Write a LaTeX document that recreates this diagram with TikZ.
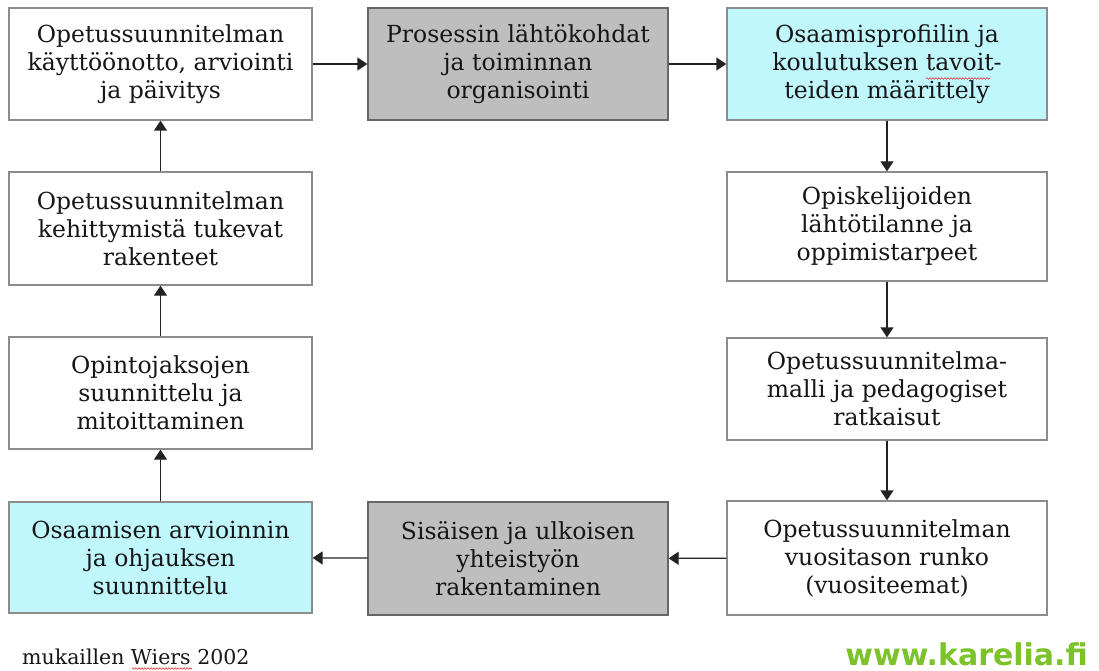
\documentclass[tikz,border=0pt]{standalone}
\usepackage{fontspec}
\setmainfont{DejaVu Serif}
\newfontfamily\logofont{DejaVu Sans}
\usetikzlibrary{arrows.meta,decorations.pathmorphing}
\definecolor{boxgrey}{HTML}{BEBEBE}
\definecolor{boxcyan}{HTML}{BFF7FC}
\definecolor{bordergrey}{HTML}{8C8C8C}
\definecolor{textdark}{HTML}{161616}
\definecolor{arrowdark}{HTML}{222222}
\definecolor{karelia}{HTML}{7CC22A}
\definecolor{spellred}{HTML}{E03030}
\tikzset{
  stagebox/.style={draw=bordergrey, line width=1.3pt, fill=white, inner sep=0pt,
    align=center, text=textdark, font=\fontsize{23.5}{28}\selectfont},
  greybox/.style={stagebox, fill=boxgrey, draw=black!60},
  cyanbox/.style={stagebox, fill=boxcyan},
  flow/.style={draw=arrowdark, line width=1.3pt, -{Triangle[width=13pt,length=10pt]}},
  spellmark/.style={draw=spellred, line width=0.6pt,
    decorate, decoration={snake, segment length=3pt, amplitude=0.8pt}},
}
\begin{document}
\begin{tikzpicture}[x=1pt,y=-1pt]
\useasboundingbox (0,0) rectangle (1099,671);
\node[stagebox, minimum width=303pt, minimum height=112pt] (A) at (160.5,64)
  {Opetussuunnitelman\\käyttöönotto, arviointi\\ja päivitys};
\node[greybox, minimum width=300pt, minimum height=112pt] (B) at (518,64)
  {Prosessin lähtökohdat\\ja toiminnan\\organisointi};
\node[cyanbox, minimum width=320pt, minimum height=112pt] (C) at (887,64)
  {Osaamisprofiilin ja\\koulutuksen tavoit-\\teiden määrittely};
\node[stagebox, minimum width=320pt, minimum height=109pt] (D) at (887,226.5)
  {Opiskelijoiden\\lähtötilanne ja\\oppimistarpeet};
\node[stagebox, minimum width=320pt, minimum height=102pt] (E) at (887,389)
  {Opetussuunnitelma-\\malli ja pedagogiset\\ratkaisut};
\node[stagebox, minimum width=320pt, minimum height=114pt] (F) at (887,558)
  {Opetussuunnitelman\\vuositason runko\\(vuositeemat)};
\node[greybox, minimum width=300pt, minimum height=113pt] (G) at (518,558.5)
  {Sisäisen ja ulkoisen\\yhteistyön\\rakentaminen};
\node[cyanbox, minimum width=303pt, minimum height=111pt] (H) at (160.5,557.5)
  {Osaamisen arvioinnin\\ja ohjauksen\\suunnittelu};
\node[stagebox, minimum width=303pt, minimum height=112pt] (I) at (160.5,393)
  {Opintojaksojen\\suunnittelu ja\\mitoittaminen};
\node[stagebox, minimum width=303pt, minimum height=113pt] (J) at (160.5,228.5)
  {Opetussuunnitelman\\kehittymistä tukevat\\rakenteet};

\draw[flow] (A) -- (B);
\draw[flow] (B) -- (C);
\draw[flow] (C) -- (D);
\draw[flow] (D) -- (E);
\draw[flow] (E) -- (F);
\draw[flow] (F) -- (G);
\draw[flow] (G) -- (H);
\draw[flow] (H) -- (I);
\draw[flow] (I) -- (J);
\draw[flow] (J) -- (A);

\node[anchor=base west, inner sep=0pt, text=textdark, font=\fontsize{20.5}{24}\selectfont] (src) at (22,664)
  {mukaillen Wiers 2002};
\node[anchor=base east, inner sep=0pt, text=karelia, font=\logofont\bfseries\fontsize{30}{34}\selectfont] (logo) at (1088,665)
  {www.karelia.fi};

\coordinate (tv1) at (926,78.5);
\coordinate (tv2) at (990,78.5);
\draw[spellmark] (tv1) -- (tv2);
\coordinate (wr1) at (132,668.5);
\coordinate (wr2) at (192,668.5);
\draw[spellmark] (wr1) -- (wr2);
\end{tikzpicture}
\end{document}
